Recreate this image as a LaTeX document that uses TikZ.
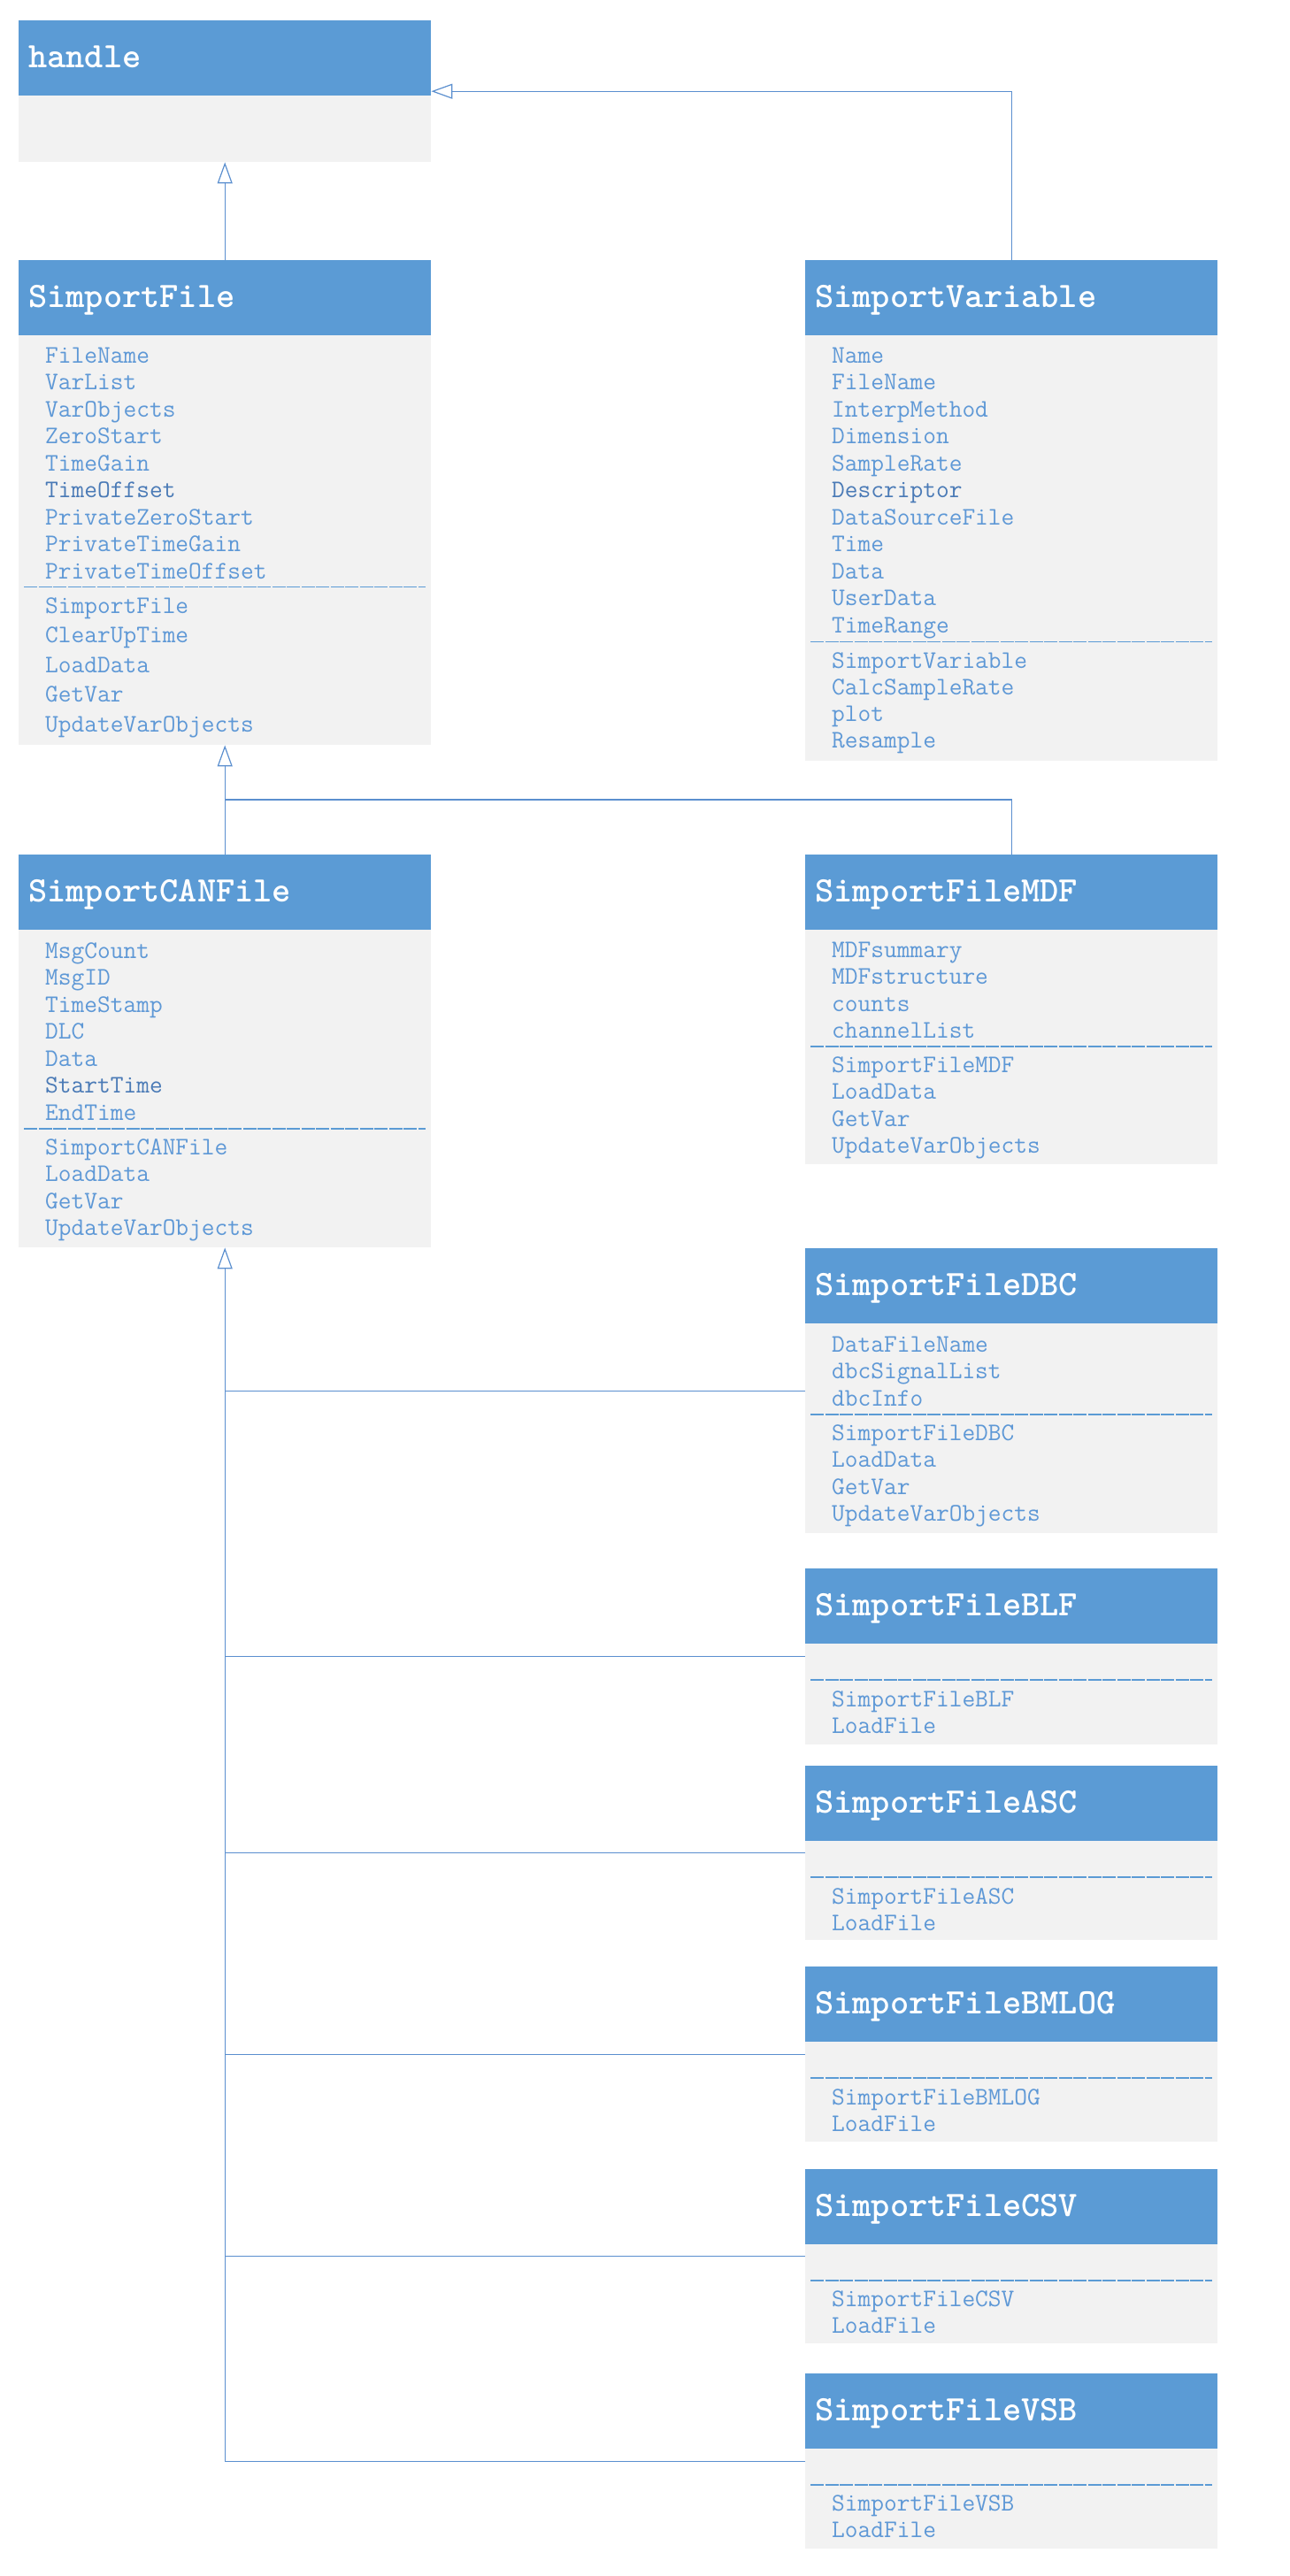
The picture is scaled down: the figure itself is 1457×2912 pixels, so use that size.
\documentclass[tikz,border=0pt]{standalone}
\usepackage{fontspec}
\usetikzlibrary{arrows.meta,positioning}

\definecolor{hdrblue}{HTML}{5B9BD5}
\definecolor{bodygrey}{HTML}{F2F2F2}
\definecolor{membertxt}{HTML}{5E98D6}
\definecolor{memberdark}{HTML}{4A7AB6}
\definecolor{linkblue}{HTML}{5B8FCF}

\begin{document}
\begin{tikzpicture}[
  x=1pt, y=-1pt,
  cls/.style={fill=bodygrey, draw=none, anchor=north west, inner sep=0pt,
              minimum width=466pt},
  clshead/.style={fill=hdrblue, anchor=north west, inner xsep=11pt, inner ysep=0pt,
                  minimum width=466pt, minimum height=85pt, text width=444pt, align=left,
                  text height=28pt, text depth=7pt, text=white,
                  font=\ttfamily\bfseries\fontsize{40.4}{46}\selectfont},
  members/.style={anchor=base west, inner sep=0pt, text width=420pt, align=left,
                  text=membertxt, font=\ttfamily\fontsize{28.6}{30.5}\selectfont},
  sepline/.style={draw=hdrblue, line width=1.4pt, dash pattern=on 15pt off 1.5pt},
  gen/.style={draw=linkblue, line width=1.2pt},
  inherit/.style={gen, -{Triangle[open, length=24pt, width=17pt, fill=white]}}
]
\useasboundingbox (0,0) rectangle (1457,2912);

% ---------------- base classes ----------------
\node[cls, minimum height=160pt] (handle) at (21,23) {};
\node[clshead] (handleT) at (handle.north west) {handle};

\node[cls, minimum height=548pt] (file) at (21,294) {};
\node[clshead] (fileT) at (file.north west) {SimportFile};
\node[members] (fileA) at (51,410)
  {FileName\\VarList\\VarObjects\\ZeroStart\\TimeGain\\\textcolor{memberdark}{TimeOffset}\\
   PrivateZeroStart\\PrivateTimeGain\\PrivateTimeOffset};
\draw[sepline] (27,663.5) -- (481,663.5);
\node[members, font=\ttfamily\fontsize{28.6}{33.5}\selectfont] (fileM) at (51,693)
  {SimportFile\\ClearUpTime\\LoadData\\GetVar\\UpdateVarObjects};

\node[cls, minimum height=566pt] (var) at (910,294) {};
\node[clshead] (varT) at (var.north west) {SimportVariable};
\node[members] (varA) at (940,410)
  {Name\\FileName\\InterpMethod\\Dimension\\SampleRate\\\textcolor{memberdark}{Descriptor}\\
   DataSourceFile\\Time\\Data\\UserData\\TimeRange};
\draw[sepline] (916,725.5) -- (1370,725.5);
\node[members, font=\ttfamily\fontsize{28.6}{30.3}\selectfont] (varM) at (940,755)
  {SimportVariable\\CalcSampleRate\\plot\\Resample};

% ---------------- file readers ----------------
\node[cls, minimum height=444pt] (can) at (21,966) {};
\node[clshead] (canT) at (can.north west) {SimportCANFile};
\node[members] (canA) at (51,1083)
  {MsgCount\\MsgID\\TimeStamp\\DLC\\Data\\\textcolor{memberdark}{StartTime}\\EndTime};
\draw[sepline] (27,1276) -- (481,1276);
\node[members] (canM) at (51,1305)
  {SimportCANFile\\LoadData\\GetVar\\UpdateVarObjects};

\node[cls, minimum height=350pt] (mdf) at (910,966) {};
\node[clshead] (mdfT) at (mdf.north west) {SimportFileMDF};
\node[members] (mdfA) at (940,1082)
  {MDFsummary\\MDFstructure\\counts\\channelList};
\draw[sepline] (916,1183) -- (1370,1183);
\node[members] (mdfM) at (940,1212)
  {SimportFileMDF\\LoadData\\GetVar\\UpdateVarObjects};

% ---------------- CAN formats ----------------
\node[cls, minimum height=322pt] (dbc) at (910,1411) {};
\node[clshead] (dbcT) at (dbc.north west) {SimportFileDBC};
\node[members] (dbcA) at (940,1528)
  {DataFileName\\dbcSignalList\\dbcInfo};
\draw[sepline] (916,1599) -- (1370,1599);
\node[members] (dbcM) at (940,1628)
  {SimportFileDBC\\LoadData\\GetVar\\UpdateVarObjects};

\node[cls, minimum height=199pt] (blf) at (910,1773) {};
\node[clshead] (blfT) at (blf.north west) {SimportFileBLF};
\draw[sepline] (916,1899) -- (1370,1899);
\node[members] (blfM) at (940,1929) {SimportFileBLF\\LoadFile};

\node[cls, minimum height=197pt] (asc) at (910,1996) {};
\node[clshead] (ascT) at (asc.north west) {SimportFileASC};
\draw[sepline] (916,2122) -- (1370,2122);
\node[members] (ascM) at (940,2152) {SimportFileASC\\LoadFile};

\node[cls, minimum height=198pt] (bmlog) at (910,2223) {};
\node[clshead] (bmlogT) at (bmlog.north west) {SimportFileBMLOG};
\draw[sepline] (916,2349) -- (1370,2349);
\node[members] (bmlogM) at (940,2379) {SimportFileBMLOG\\LoadFile};

\node[cls, minimum height=197pt] (csv) at (910,2452) {};
\node[clshead] (csvT) at (csv.north west) {SimportFileCSV};
\draw[sepline] (916,2578) -- (1370,2578);
\node[members] (csvM) at (940,2607) {SimportFileCSV\\LoadFile};

\node[cls, minimum height=198pt] (vsb) at (910,2683) {};
\node[clshead] (vsbT) at (vsb.north west) {SimportFileVSB};
\draw[sepline] (916,2809) -- (1370,2809);
\node[members] (vsbM) at (940,2838) {SimportFileVSB\\LoadFile};

% ---------------- generalisation ----------------
\coordinate (fork) at (254,904);
\draw[inherit] (file.north) -- (handle.south);
\draw[inherit] (var.north) |- (handle.east);
\draw[inherit] (can.north) -- (file.south);
\draw[gen] (mdf.north) |- (fork);
\draw[inherit] (vsb.west) -| (can.south);
\draw[gen] (dbc.west) -- (dbc.west -| can.south);
\draw[gen] (blf.west) -- (blf.west -| can.south);
\draw[gen] (asc.west) -- (asc.west -| can.south);
\draw[gen] (bmlog.west) -- (bmlog.west -| can.south);
\draw[gen] (csv.west) -- (csv.west -| can.south);

\end{tikzpicture}
\end{document}
